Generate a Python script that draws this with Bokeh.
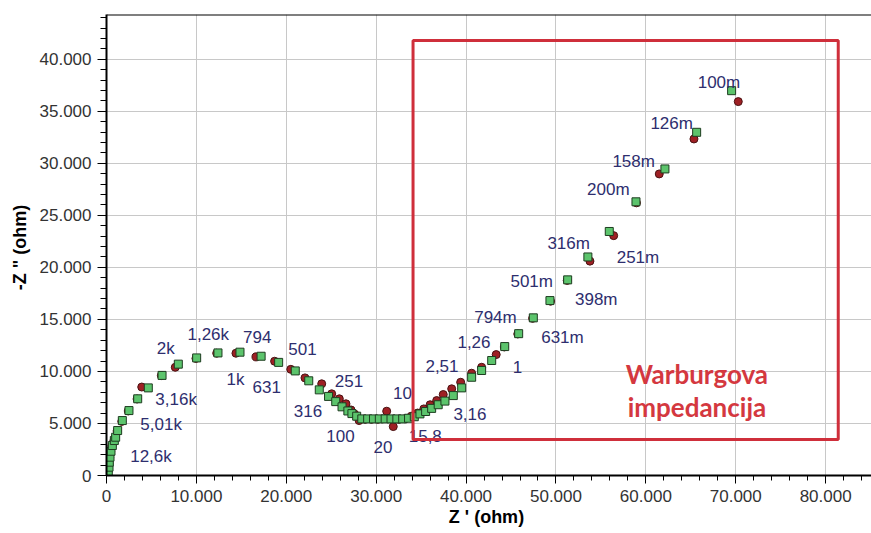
from bokeh.plotting import figure
from bokeh.models import (Range1d, FixedTicker, BoxAnnotation, Label, Span,
                          ColumnDataSource, LabelSet)
from bokeh.embed import file_html
from bokeh.resources import INLINE
from bokeh.core.properties import value

# ---------------- data (ohm) ----------------
green_zr = [200, 280, 310, 390, 500, 650, 870, 1020, 1240, 1760, 2500, 3470, 4650,
            6180, 7990, 10030, 12400, 14850, 17200, 19150, 21000, 22500, 23670,
            24700, 25500, 26200, 26850, 27300, 27830, 28400, 29050, 29700, 30350,
            31000, 31650, 32300, 32950, 33600, 34240, 34870, 35500, 36170, 36900,
            37650, 38580, 39510, 40620, 41730, 42850, 44300, 45850, 47480, 49330,
            51300, 53550, 55930, 58900, 62120, 65650, 69540]
green_zi = [320, 800, 1280, 1760, 2330, 2880, 3360, 3680, 4320, 5280, 6240, 7370, 8420,
            9620, 10700, 11300, 11780, 11850, 11460, 10870, 10050, 9100, 8230,
            7600, 7100, 6600, 6200, 5950, 5700, 5440, 5440, 5440, 5440,
            5440, 5440, 5440, 5440, 5500, 5650, 5920, 6150, 6450, 6800,
            7150, 7680, 8420, 9440, 10090, 11050, 12390, 13630, 15150, 16810,
            18800, 21000, 23450, 26300, 29460, 32980, 36980]

red_zr = [150, 220, 270, 350, 460, 600, 820, 970, 1180, 1700, 2420, 3400, 3920,
          6100, 7650, 9950, 12260, 14400, 16630, 18700, 20500, 22080, 23940,
          25050, 25900, 26640, 27200, 27600, 28100, 28800, 29500, 30200, 31170,
          31900, 32500, 33200, 33900, 34600, 35300, 36000, 36730, 37460, 38400,
          39400, 40620, 41730, 43350, 44250, 45750, 47400, 49400, 51250, 53780,
          56420, 58950, 61490, 65350, 70280]
red_zi = [300, 780, 1250, 1720, 2300, 2850, 3330, 3650, 4280, 5200, 6200, 7350, 8500,
          9600, 10400, 11250, 11750, 11750, 11400, 10980, 10200, 9380, 8810,
          7850, 7370, 6890, 6300, 5900, 5280, 5400, 5400, 5400, 6180,
          4700, 5400, 5450, 5700, 6000, 6400, 6800, 7200, 7780, 8330,
          8960, 9830, 10400, 11620, 12350, 13600, 15100, 16750, 18750, 20600,
          23050, 26200, 28980, 32340, 35930]

freq_text = ["100m", "126m", "158m", "200m", "316m", "251m", "501m", "398m",
             "794m", "631m", "1,26", "2,51", "1", "10", "3,16", "15,8", "20",
             "100", "316", "251", "501", "631", "1k", "794", "1,26k", "2k",
             "3,16k", "5,01k", "12,6k"]
freq_x = [68130, 62870, 58640, 55820, 51410, 59120, 47300, 54480,
          43270, 50720, 40880, 37320, 45720, 32930, 40430, 35460, 30760,
          26030, 22410, 26970, 21800, 17820, 14350, 16760, 11320, 6580,
          7750, 6080, 4950]
freq_y = [37780, 33780, 30160, 27440, 22260, 20970, 18640, 16910,
          15150, 13290, 12800, 10570, 10400, 7910, 5930, 3750, 2720,
          3750, 6240, 9060, 12170, 8550, 9190, 13350, 13540, 12170,
          7270, 4870, 1830]

x_ticks = [0, 10000, 20000, 30000, 40000, 50000, 60000, 70000, 80000]
y_ticks = [0, 5000, 10000, 15000, 20000, 25000, 30000, 35000, 40000]
x_minor = list(range(0, 86000, 2000))
y_minor = list(range(0, 45000, 1000))

X_MAX = 85100
Y_MAX = 44300

# Warburg region box
box_left, box_right, box_bottom, box_top = 34100, 81400, 3460, 41800
warburg_lines = ["Warburgova", "impedancija"]
warburg_x = 65680
warburg_y = [9800, 6630]


def fmt(t):
    return f"{t:,}".replace(",", ".")


p = figure(width=871, height=533, output_backend="svg", toolbar_location=None,
           x_range=Range1d(0, X_MAX), y_range=Range1d(0, Y_MAX),
           min_border_left=106, min_border_right=0, min_border_top=14,
           min_border_bottom=58)
p.outline_line_color = None
p.background_fill_color = "white"
p.border_fill_color = "white"

xt = FixedTicker(ticks=x_ticks, minor_ticks=x_minor)
yt = FixedTicker(ticks=y_ticks, minor_ticks=y_minor)
p.xaxis.ticker = xt
p.yaxis.ticker = yt
p.xgrid.ticker = xt
p.ygrid.ticker = yt
for g in (p.xgrid, p.ygrid):
    g.grid_line_color = "#c8c8c8"
    g.grid_line_width = 1

p.xaxis.major_label_overrides = {t: fmt(t) for t in x_ticks}
p.yaxis.major_label_overrides = {t: fmt(t) for t in y_ticks}

for ax in (p.xaxis, p.yaxis):
    ax.axis_line_width = 2
    ax.axis_line_color = "black"
    ax.major_tick_line_color = "black"
    ax.minor_tick_line_color = "black"
    ax.major_tick_line_width = 1
    ax.minor_tick_line_width = 1
    ax.major_tick_in = 0
    ax.minor_tick_in = 0
    ax.major_label_text_font = "Liberation Sans"
    ax.major_label_text_font_size = "17px"
    ax.major_label_text_color = "#333333"
    ax.axis_label_text_font = "Liberation Sans"
    ax.axis_label_text_font_style = "bold"
    ax.axis_label_text_font_size = "18px"
    ax.axis_label_text_color = "black"

p.xaxis.axis_label = "Z '  (ohm)"
p.yaxis.axis_label = '-Z "  (ohm)'
p.xaxis.major_tick_out = 8
p.xaxis.minor_tick_out = 5
p.yaxis.major_tick_out = 9
p.yaxis.minor_tick_out = 6
p.xaxis.major_label_standoff = 6
p.yaxis.major_label_standoff = 6
p.xaxis.axis_label_standoff = 2
p.yaxis.axis_label_standoff = 7

# top border
p.add_layout(Span(location=Y_MAX, dimension="width", line_color="black",
                  line_width=2))

# data points
p.scatter(red_zr, red_zi, marker="circle", size=8, fill_color="#9e2024",
          line_color="#4a1212", line_width=1)
p.scatter(green_zr, green_zi, marker="square", size=8, fill_color="#5cc46c",
          line_color="#1e3d20", line_width=1)

# frequency labels
src = ColumnDataSource(dict(x=freq_x, y=freq_y, t=freq_text))
p.add_layout(LabelSet(x="x", y="y", text="t", source=src,
                      text_font=value("Liberation Sans"),
                      text_font_size=value("17px"), text_color="#2e2e6e",
                      text_align="center", text_baseline="middle"))

# Warburg box and text
p.add_layout(BoxAnnotation(left=box_left, right=box_right, bottom=box_bottom,
                           top=box_top, fill_color=None, fill_alpha=0,
                           line_color="#cf2f3b", line_alpha=1.0, line_width=3))
for txt, yy in zip(warburg_lines, warburg_y):
    p.add_layout(Label(x=warburg_x, y=yy, text=txt, text_font="Lato",
                       text_font_style="bold", text_font_size="26px",
                       text_color="#d4383f", text_align="center",
                       text_baseline="middle"))

open("out.html", "w").write(file_html(p, INLINE))
